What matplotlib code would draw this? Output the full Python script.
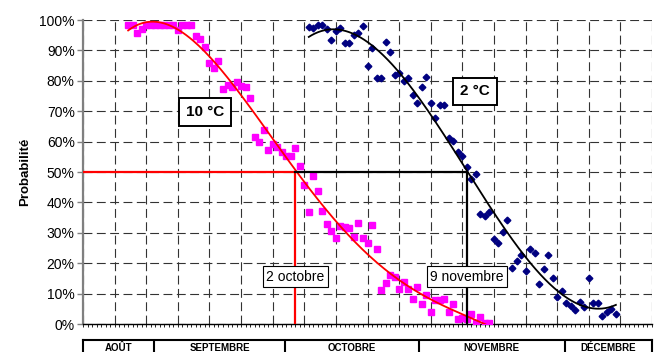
import matplotlib
matplotlib.use("Agg")
import matplotlib.pyplot as plt
from matplotlib.ticker import MultipleLocator, PercentFormatter, NullFormatter
import numpy as np

plt.rcParams['font.family'] = ['Liberation Sans', 'DejaVu Sans']

# x = days counted from 16 August
days_10 = np.arange(10, 91)
prob_10 = [98.4, 98.4, 95.7, 97.0, 98.4, 98.4, 98.4, 98.4, 98.4, 98.4, 98.4, 96.7,
           98.4, 98.4, 98.4, 94.7, 93.8, 91.2, 86.0, 84.3, 86.5, 77.2, 78.6, 77.9,
           79.7, 78.3, 78.0, 74.2, 61.6, 59.8, 63.8, 57.2, 59.2, 58.3, 56.6, 55.3,
           55.3, 58.0, 52.0, 45.7, 36.8, 48.7, 43.8, 37.2, 32.9, 30.6, 28.3, 32.2,
           31.9, 31.6, 28.6, 33.2, 28.3, 26.6, 32.6, 24.7, 11.2, 13.5, 16.1, 15.5,
           11.5, 13.8, 11.5, 8.2, 12.2, 6.6, 9.5, 3.9, 7.9, 7.9, 8.2, 3.9,
           6.6, 1.6, 2.0, 1.6, 3.3, 0.3, 2.3, 0.3, 0.3]

days_2 = np.arange(50, 119)
prob_2 = [97.7, 97.4, 98.4, 98.4, 97.0, 93.4, 96.4, 97.4, 92.4, 92.4, 95.0, 95.7,
          98.0, 84.9, 90.8, 80.9, 80.9, 92.8, 89.5, 81.9, 82.6, 79.9, 80.9, 75.3,
          72.7, 78.0, 81.2, 72.7, 67.8, 72.0, 72.0, 61.2, 60.2, 56.6, 55.3, 51.6,
          47.7, 49.3, 36.2, 35.5, 36.8, 28.0, 26.6, 30.3, 34.2, 18.4, 20.7, 22.7,
          17.4, 24.7, 23.4, 13.2, 18.1, 22.7, 15.1, 8.9, 10.9, 6.9, 5.9, 4.6,
          7.2, 5.6, 15.1, 6.9, 6.9, 2.6, 3.9, 4.9, 3.3]

# day where each trend crosses 50 %
cross_10 = 47   # 2 octobre
cross_2 = 85    # 9 novembre

months = ['AOÛT', 'SEPTEMBRE', 'OCTOBRE', 'NOVEMBRE', 'DÉCEMBRE']
month_edges = [0, 15.8, 44.8, 74.4, 106.7, 126]

fig = plt.figure(figsize=(6.6, 3.52), dpi=100)
ax = fig.add_axes([83/660, 1-324/352, 569/660, 304/352])

ax.set_xlim(0, 126)
ax.set_ylim(0, 100)
ax.xaxis.set_major_locator(MultipleLocator(7))
ax.xaxis.set_minor_locator(MultipleLocator(1))
ax.xaxis.set_major_formatter(NullFormatter())
ax.yaxis.set_major_locator(MultipleLocator(10))
ax.yaxis.set_major_formatter(PercentFormatter(100, decimals=0))
ax.tick_params(axis='x', which='both', direction='out', length=2.2, width=0.6)
ax.tick_params(axis='y', direction='out', length=4, width=1, color='#808080',
               labelsize=10, pad=2)

ax.grid(True, axis='both', color='#333333', linewidth=0.8, linestyle=(0, (8, 4)))
ax.set_axisbelow(True)
for s in ['top', 'right']:
    ax.spines[s].set_visible(False)
ax.spines['left'].set_color('#808080')
ax.spines['left'].set_linewidth(1.6)
ax.spines['bottom'].set_linewidth(1.0)

ax.set_ylabel('Probabilité', fontsize=9.5, fontweight='bold', labelpad=6)

# scatter data
ax.plot(days_10, prob_10, linestyle='none', marker='s', markersize=4.4,
        color='#FF00FF', zorder=3)
ax.plot(days_2, prob_2, linestyle='none', marker='D', markersize=3.4,
        color='#000080', zorder=3)

# polynomial trend lines
c10 = np.polyfit(days_10, prob_10, 4)
xs10 = np.linspace(days_10[0], days_10[-1], 200)
ax.plot(xs10, np.polyval(c10, xs10), color='red', linewidth=1.3, zorder=4)
c2 = np.polyfit(days_2, prob_2, 3)
xs2 = np.linspace(days_2[0], days_2[-1], 200)
ax.plot(xs2, np.polyval(c2, xs2), color='black', linewidth=1.3, zorder=4)

# 50 % reading lines
ax.plot([0, cross_10], [50, 50], color='red', linewidth=1.6, zorder=5)
ax.plot([cross_10, cross_10], [50, 0], color='red', linewidth=1.6, zorder=5)
ax.plot([cross_10, cross_2], [50, 50], color='black', linewidth=1.6, zorder=5)
ax.plot([cross_2, cross_2], [50, 0], color='black', linewidth=1.6, zorder=5)

ax.text(cross_10, 15.5, '2 octobre', ha='center', va='center', fontsize=10,
        bbox=dict(boxstyle='square,pad=0.25', fc='white', ec='black', lw=0.8), zorder=6)
ax.text(cross_2, 15.5, '9 novembre', ha='center', va='center', fontsize=10,
        bbox=dict(boxstyle='square,pad=0.25', fc='white', ec='black', lw=0.8), zorder=6)
ax.text(27.1, 69.7, '10 °C', ha='center', va='center', fontsize=11, fontweight='bold',
        bbox=dict(boxstyle='square,pad=0.45', fc='white', ec='black', lw=1.4), zorder=6)
ax.text(86.8, 76.5, '2 °C', ha='center', va='center', fontsize=11, fontweight='bold',
        bbox=dict(boxstyle='square,pad=0.45', fc='white', ec='black', lw=1.4), zorder=6)

# month strip under the chart
tax = fig.add_axes([83/660, 1-358/352, 569/660, 18/352])
tax.set_xlim(0, 126)
tax.set_ylim(0, 1)
tax.set_xticks([])
tax.set_yticks([])
for s in tax.spines.values():
    s.set_linewidth(1.5)
for e in month_edges[1:-1]:
    tax.axvline(e, color='black', linewidth=1.5)
for i, m in enumerate(months):
    tax.text((month_edges[i] + month_edges[i+1]) / 2, 0.58, m, ha='center',
             va='center', fontsize=7, fontweight='bold')

fig.savefig('out.png', dpi=100)
